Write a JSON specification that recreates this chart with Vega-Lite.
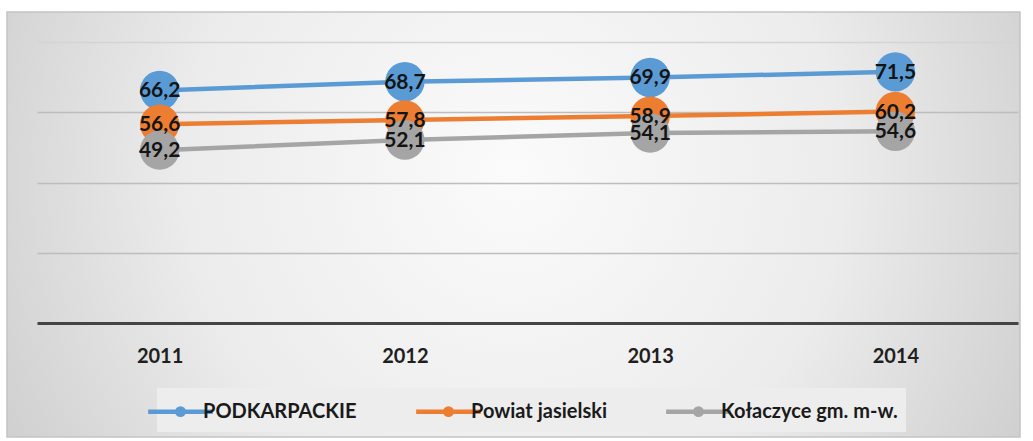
{
  "$schema": "https://vega.github.io/schema/vega-lite/v6.json",
  "autosize": {"type": "none"},
  "width": 1013,
  "height": 425,
  "padding": {"left": 7, "top": 12, "right": 13, "bottom": 4},
  "background": "white",
  "config": {
    "locale": {"number": {"decimal": ",", "thousands": " ", "grouping": [3], "currency": ["", " zł"]}},
    "view": {
      "stroke": "#c4c4c4",
      "strokeWidth": 1.5,
      "fill": {
        "gradient": "radial",
        "x1": 0.5, "y1": 0.45, "x2": 0.5, "y2": 0.45,
        "r1": 0, "r2": 0.72,
        "stops": [
          {"offset": 0, "color": "#fbfbfb"},
          {"offset": 0.45, "color": "#ececec"},
          {"offset": 1, "color": "#bdbdbd"}
        ]
      }
    }
  },
  "data": {
    "values": [
      {"year": "2011", "series": "PODKARPACKIE", "value": 66.2},
      {"year": "2012", "series": "PODKARPACKIE", "value": 68.7},
      {"year": "2013", "series": "PODKARPACKIE", "value": 69.9},
      {"year": "2014", "series": "PODKARPACKIE", "value": 71.5},
      {"year": "2011", "series": "Powiat jasielski", "value": 56.6},
      {"year": "2012", "series": "Powiat jasielski", "value": 57.8},
      {"year": "2013", "series": "Powiat jasielski", "value": 58.9},
      {"year": "2014", "series": "Powiat jasielski", "value": 60.2},
      {"year": "2011", "series": "Kołaczyce gm. m-w.", "value": 49.2},
      {"year": "2012", "series": "Kołaczyce gm. m-w.", "value": 52.1},
      {"year": "2013", "series": "Kołaczyce gm. m-w.", "value": 54.1},
      {"year": "2014", "series": "Kołaczyce gm. m-w.", "value": 54.6}
    ]
  },
  "encoding": {
    "x": {
      "field": "year", "type": "ordinal",
      "scale": {"type": "point", "range": [30, 1011], "padding": 0.5},
      "axis": {
        "title": null, "orient": "bottom", "offset": -114,
        "labelAngle": 0, "labelFont": "Lato", "labelFontWeight": "bold", "labelFontSize": 20,
        "labelColor": "#1f1f1f", "ticks": false, "tickSize": 0, "labelPadding": 23,
        "domainColor": "#444444", "domainWidth": 3, "grid": false
      }
    },
    "y": {
      "field": "value", "type": "quantitative",
      "scale": {"domain": [0, 80], "range": [311, 30]},
      "axis": {
        "title": null, "labels": false, "ticks": false, "domain": false,
        "values": [20, 40, 60, 80], "grid": true,
        "gridColor": {"condition": {"test": "datum.value === 80", "value": "#d4d4d4"}, "value": "#bdbdbd"},
        "gridWidth": 1.5
      }
    }
  },
  "layer": [
    {
      "mark": {"type": "line", "strokeWidth": 4.5},
      "encoding": {
        "color": {
          "field": "series", "type": "nominal",
          "scale": {"domain": ["PODKARPACKIE", "Powiat jasielski", "Kołaczyce gm. m-w."], "range": ["#5B9BD5", "#ED7D31", "#A5A5A5"]},
          "legend": {
            "title": null, "orient": "none", "legendX": 150, "legendY": 376, "direction": "horizontal",
            "fillColor": "#ededed", "padding": 8,
            "symbolType": "M-2.5,0H2.5M0.25,0A0.25,0.25,0,1,1,-0.25,0A0.25,0.25,0,1,1,0.25,0Z",
            "symbolSize": 670, "symbolStrokeWidth": 4.5,
            "labelFont": "Lato", "labelFontWeight": "bold", "labelFontSize": 20, "labelColor": "#1a1a1a",
            "labelOffset": 7, "columnPadding": 50, "labelLimit": 400,
            "encode": {
              "symbols": {
                "update": {
                  "fill": {"scale": "color", "field": "value"},
                  "stroke": {"scale": "color", "field": "value"},
                  "strokeWidth": {"value": 4.5},
                  "opacity": {"value": 1}
                }
              }
            }
          }
        },
        "order": {"field": "year"}
      }
    },
    {
      "mark": {"type": "point", "shape": "circle", "filled": true, "opacity": 1, "size": 1550},
      "encoding": {
        "color": {"field": "series", "type": "nominal"}
      }
    },
    {
      "mark": {"type": "text", "font": "Lato", "fontWeight": "bold", "fontSize": 21, "color": "#141414", "align": "center", "baseline": "middle", "dy": 1},
      "encoding": {
        "text": {"field": "value", "type": "quantitative", "format": ".1f"}
      }
    }
  ]
}
